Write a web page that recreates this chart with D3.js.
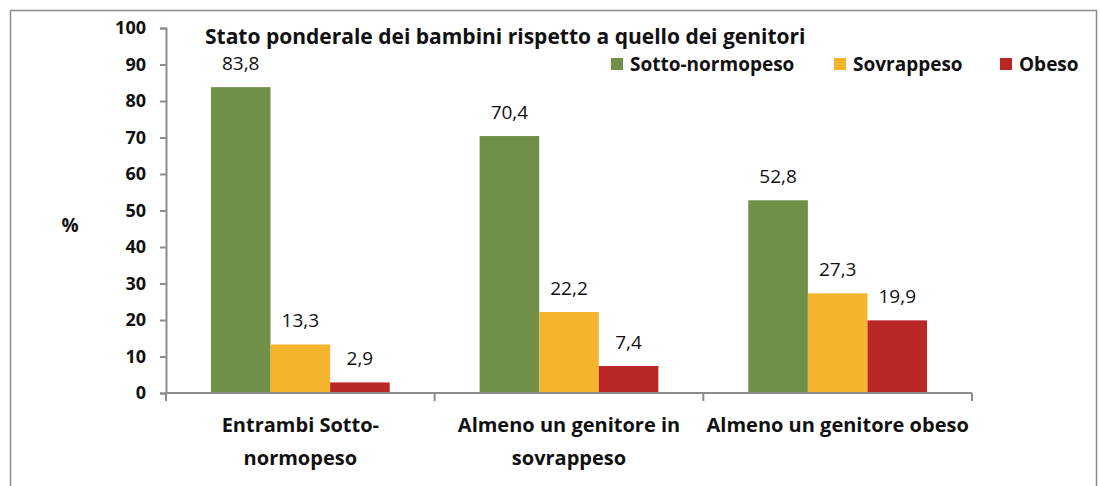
<!DOCTYPE html>
<html>
<head>
<meta charset="utf-8">
<script src="https://cdn.jsdelivr.net/npm/d3@7"></script>
<style>
  body { margin: 0; background: #fff; }
  svg { display: block; font-family: "Open Sans", Lato, sans-serif; }
</style>
</head>
<body>
<div id="chart"></div>
<script>
const categories = [
  ["Entrambi Sotto-", "normopeso"],
  ["Almeno un genitore in", "sovrappeso"],
  ["Almeno un genitore obeso"]
];
const seriesNames = ["Sotto-normopeso", "Sovrappeso", "Obeso"];
const seriesColors = ["#70904a", "#f4b42e", "#b92727"];
const sottoNormo = [83.8, 70.4, 52.8];
const sovrappeso = [13.3, 22.2, 27.3];
const obeso = [2.9, 7.4, 19.9];
const yTicks = [0, 10, 20, 30, 40, 50, 60, 70, 80, 90, 100];

const width = 1100, height = 486;
const svg = d3.select("#chart").append("svg")
  .attr("width", width).attr("height", height);

// outer frame
svg.append("rect")
  .attr("x", 10.5).attr("y", 10.5)
  .attr("width", 1086).attr("height", 490)
  .attr("fill", "none").attr("stroke", "#8c8c8c").attr("stroke-width", 1.5);

const x0 = d3.scaleBand().domain(d3.range(categories.length)).range([166, 972]).paddingInner(0).paddingOuter(0);
const inner = 179 / 269;
const x1 = d3.scaleBand().domain(d3.range(seriesNames.length))
  .range([0, x0.bandwidth() * inner]);
const y = d3.scaleLinear().domain([0, 100]).range([393, 28]);

const allSeries = [sottoNormo, sovrappeso, obeso];
const rows = [];
categories.forEach((c, i) => {
  allSeries.forEach((s, j) => rows.push({ cat: i, ser: j, value: s[i] }));
});

const offset = x0.bandwidth() * (1 - inner) / 2;
svg.append("g").selectAll("rect").data(rows).enter().append("rect")
  .attr("x", d => x0(d.cat) + offset + x1(d.ser))
  .attr("y", d => y(d.value))
  .attr("width", x1.bandwidth())
  .attr("height", d => y(0) - y(d.value))
  .attr("fill", d => seriesColors[d.ser]);

svg.append("g").selectAll("text").data(rows).enter().append("text")
  .attr("x", d => x0(d.cat) + offset + x1(d.ser) + x1.bandwidth() / 2)
  .attr("y", d => y(d.value) - 17)
  .attr("text-anchor", "middle")
  .attr("font-size", 19)
  .attr("fill", "#111")
  .text(d => d3.format(".1f")(d.value).replace(".", ","));

// y axis
const yAxis = svg.append("g").attr("transform", "translate(166,0)")
  .call(d3.axisLeft(y).tickValues(yTicks).tickSize(6).tickPadding(14));
yAxis.select(".domain").attr("stroke", "#8c8c8c").attr("stroke-width", 2);
yAxis.selectAll(".tick line").attr("stroke", "#8c8c8c").attr("stroke-width", 2);
yAxis.selectAll(".tick text").attr("font-size", 18).attr("font-weight", "bold")
  .attr("fill", "#111").attr("font-family", "'Open Sans', sans-serif");

// x axis
const xAxis = svg.append("g").attr("transform", "translate(0,393)");
xAxis.append("line").attr("x1", 166).attr("x2", 972)
  .attr("stroke", "#8c8c8c").attr("stroke-width", 2);
const bounds = d3.range(categories.length + 1).map(i => i < categories.length ? x0(i) : x0.range()[1]);
xAxis.selectAll("line.tk").data(bounds).enter().append("line")
  .attr("class", "tk")
  .attr("x1", d => d).attr("x2", d => d).attr("y1", 0).attr("y2", 8)
  .attr("stroke", "#8c8c8c").attr("stroke-width", 2);

const labels = svg.append("g").selectAll("text").data(categories).enter().append("text")
  .attr("text-anchor", "middle")
  .attr("font-size", 20).attr("font-weight", "bold").attr("fill", "#111");
labels.each(function (lines, i) {
  const t = d3.select(this);
  lines.forEach((ln, k) => {
    t.append("tspan")
      .attr("x", x0(i) + x0.bandwidth() / 2)
      .attr("y", 432 + k * 33)
      .text(ln);
  });
});

// y label
svg.append("text").attr("x", 70).attr("y", 232)
  .attr("text-anchor", "middle")
  .attr("font-size", 19).attr("font-weight", "bold").attr("fill", "#111")
  .text("%");

// title
svg.append("text").attr("x", 205).attr("y", 44)
  .attr("font-size", 21).attr("font-weight", "bold").attr("fill", "#111")
  .text("Stato ponderale dei bambini rispetto a quello dei genitori");

// legend
const legendX = [611, 834, 1000];
const leg = svg.append("g").selectAll("g").data(seriesNames).enter().append("g")
  .attr("transform", (d, i) => `translate(${legendX[i]},58)`);
leg.append("rect").attr("width", 12).attr("height", 12)
  .attr("fill", (d, i) => seriesColors[i]);
leg.append("text").attr("x", 19).attr("y", 13)
  .attr("font-size", 19).attr("font-weight", "bold").attr("fill", "#111")
  .text(d => d);
</script>
</body>
</html>
